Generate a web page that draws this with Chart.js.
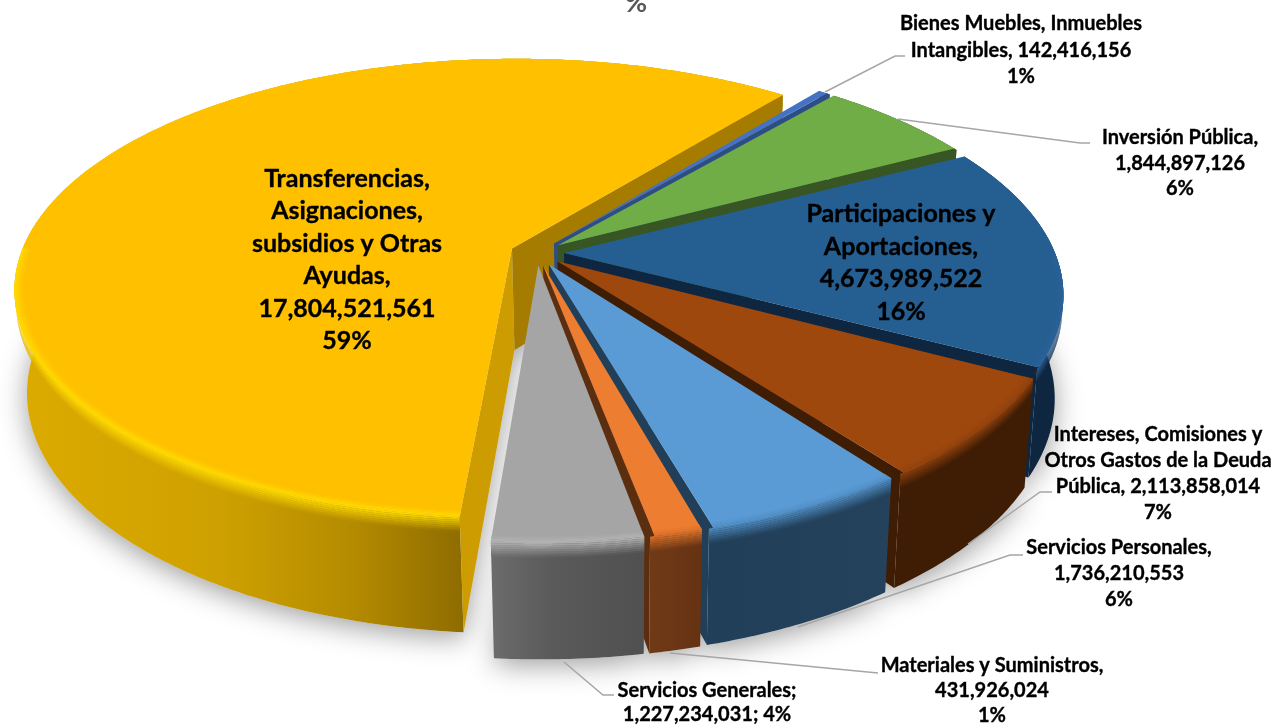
<!DOCTYPE html>
<html>
<head>
<meta charset="utf-8">
<script src="https://cdn.jsdelivr.net/npm/chart.js@4"></script>
<style>
  html, body { margin: 0; padding: 0; background: #fff; overflow: hidden; }
  canvas { display: block; }
</style>
</head>
<body>
<canvas id="pieChart" width="1273" height="725"></canvas>
<script>
var categories = ["Bienes Muebles, Inmuebles Intangibles", "Inversión Pública", "Participaciones y Aportaciones",
  "Intereses, Comisiones y Otros Gastos de la Deuda Pública", "Servicios Personales", "Materiales y Suministros",
  "Servicios Generales", "Transferencias, Asignaciones, subsidios y Otras Ayudas"];
var values = [142416156, 1844897126, 4673989522, 2113858014, 1736210553, 431926024, 1227234031, 17804521561];
var labelLines = [
  ["Bienes Muebles, Inmuebles", "Intangibles, 142,416,156", "1%"],
  ["Inversión Pública,", "1,844,897,126", "6%"],
  ["Participaciones y", "Aportaciones,", "4,673,989,522", "16%"],
  ["Intereses, Comisiones y", "Otros Gastos de la Deuda", "Pública, 2,113,858,014", "7%"],
  ["Servicios Personales,", "1,736,210,553", "6%"],
  ["Materiales y Suministros,", "431,926,024", "1%"],
  ["Servicios Generales;", "1,227,234,031; 4%"],
  ["Transferencias,", "Asignaciones,", "subsidios y Otras", "Ayudas,", "17,804,521,561", "59%"]
];

// colours of the slices, in the same order as the values
var topColors = ['#4472C4', '#70AD47', '#255E91', '#9E480E', '#5B9BD5', '#ED7D31', '#A5A5A5', '#FFC000'];
var rimColors = ['#3f69b5', '#64a03e', '#2a6298', '#8f410d', '#4f8cc2', '#d8702a', '#b4b4b4', '#FFDC00'];
var wallStops = [
  [[0, '#2c4d86'], [1, '#2c4d86']],
  [[0, '#375623'], [1, '#375623']],
  [[0, '#0e2640'], [1, '#0e2640']],
  [[0, '#3f1c04'], [1, '#3f1c04']],
  [[0, '#213f58'], [1, '#24425c']],
  [[0, '#703a17'], [1, '#653212']],
  [[0, '#6c6c6c'], [0.4, '#5a5a5a'], [1, '#505050']],
  [[0, '#dcab00'], [0.45, '#cfa100'], [0.75, '#b58c00'], [1, '#8f6c00']]
];
var cutColors = ['#2c4d86', '#375623', '#0e2640', '#3f1c04', '#213f58', '#5c2e10', '#555555', '#a67c00'];
var yellowFrontCut = '#cc9c00';

// perspective of the tilted pie
var CX = 537, CY = 253, R = 491, A = 224, H = 104, P = 0.173, Q = 0.02, SX = 2;
var EXPLODE = 27, EDGE_INSET = 0.008;

var leaders = [
  [[825, 92], [895, 56], [905, 56]],
  [[898, 119], [1080, 143], [1090, 143]],
  [[968, 544], [1040, 492], [1052, 492]],
  [[798, 627], [1010, 555], [1023, 555]],
  [[670, 653], [878, 673]],
  [[564, 662], [603, 695], [614, 695]]
];
// center x, y of the first line, line height, font size
var labelPos = [
  [1021, 24, 26.5, 20], [1180, 138, 25.5, 20], [901, 214, 32.7, 25], [1158, 435, 26, 20],
  [1119, 548, 26, 20], [992, 666, 25, 20], [707, 691, 23.5, 20], [347, 179, 32.4, 25]
];
var FONT = 'Lato, "Open Sans", sans-serif';

function project(u, v, z) {
  var w = 1 - P * v + Q * z;
  return [CX + SX * z + R * u / w, CY + (A * v + H * z) / w];
}
function hex(c) {
  return [parseInt(c.substr(1, 2), 16), parseInt(c.substr(3, 2), 16), parseInt(c.substr(5, 2), 16)];
}
function mix(c1, c2, t) {
  var a = hex(c1), b = hex(c2);
  return 'rgb(' + [0, 1, 2].map(function (i) { return Math.round(a[i] + (b[i] - a[i]) * t); }).join(',') + ')';
}

var pie3d = {
  id: 'pie3d',
  beforeDatasetDraw: function (chart, args) {
    var ctx = chart.ctx;
    var arcs = chart.getDatasetMeta(args.index).data;
    var parts = arcs.map(function (arc) {
      var mid = (arc.startAngle + arc.endAngle) / 2;
      var off = arc.options.offset / R;
      return { a0: arc.startAngle, a1: arc.endAngle, u0: off * Math.cos(mid), v0: off * Math.sin(mid) };
    });

    function rimPoint(p, a, r, z) {
      return project(p.u0 + r * Math.cos(a), p.v0 + r * Math.sin(a), z);
    }
    function trace(pts) {
      ctx.beginPath();
      pts.forEach(function (q, i) { if (i) ctx.lineTo(q[0], q[1]); else ctx.moveTo(q[0], q[1]); });
      ctx.closePath();
    }
    function arcPts(p, a0, a1, r, z) {
      var n = Math.max(2, Math.ceil((a1 - a0) / 0.01)), pts = [];
      for (var i = 0; i <= n; i++) pts.push(rimPoint(p, a0 + (a1 - a0) * i / n, r, z));
      return pts;
    }
    function band(p, a0, a1, r0, z0, r1, z1) {
      return arcPts(p, a0, a1, r0, z0).concat(arcPts(p, a0, a1, r1, z1).reverse());
    }
    function wallGradient(p, i, target, t) {
      var xa = rimPoint(p, p.a0, 1, 0)[0], xb = rimPoint(p, p.a1, 1, 0)[0];
      var x0 = Math.min(xa, xb), x1 = Math.max(xa, xb) + 1;
      if (i === 7) { x0 = 13; x1 = 462; }
      var g = ctx.createLinearGradient(x0, 0, x1, 0);
      wallStops[i].forEach(function (s) { g.addColorStop(s[0], mix(s[1], target, t)); });
      return g;
    }

    // soft shadow below the pie
    ctx.save();
    ctx.fillStyle = '#e6e6e6';
    ctx.shadowColor = 'rgba(0,0,0,0.38)';
    ctx.shadowBlur = 28;
    ctx.shadowOffsetY = 6;
    parts.forEach(function (p) {
      var apex = project(p.u0, p.v0, 1);
      trace([apex].concat(arcPts(p, p.a0, p.a1, 1, 1)));
      ctx.fill();
    });
    ctx.restore();

    // back to front: big slice first, then clockwise round to the front
    [7, 0, 1, 2, 3, 4, 5, 6].forEach(function (i) {
      var p = parts[i];
      var apex0 = project(p.u0, p.v0, 0), apex1 = project(p.u0, p.v0, 1);
      // top face stops a little short of the trailing edge, so the dark strip reads as a bevel
      var end = i < 6 ? p.a1 - EDGE_INSET : p.a1;

      // outer wall
      trace(band(p, p.a0, p.a1, 1, 0, 1, 1));
      ctx.fillStyle = wallGradient(p, i, rimColors[i], 0);
      ctx.fill();

      // rounded rim on the wall
      var steps = 8, zr = 0.13;
      for (var s = steps - 1; s >= 0; s--) {
        trace(band(p, p.a0, p.a1, 1, zr * s / steps, 1, zr * (s + 1) / steps));
        ctx.fillStyle = wallGradient(p, i, rimColors[i], 1 - (s + 0.5) / steps);
        ctx.fill();
      }

      // cut faces, only those turned to the viewer
      [p.a0, p.a1].forEach(function (a, k) {
        var r0 = rimPoint(p, a, 1, 0), r1 = rimPoint(p, a, 1, 1);
        var cross = (r0[0] - apex0[0]) * (r1[1] - r0[1]) - (r0[1] - apex0[1]) * (r1[0] - r0[0]);
        if ((k === 1) !== (cross > 0)) return;
        var pts = [apex0, r0, r1, apex1];
        if (k === 1 && end < p.a1) pts.splice(1, 0, rimPoint(p, end, 1, 0));
        trace(pts);
        ctx.fillStyle = (i === 7 && k === 0) ? yellowFrontCut : cutColors[i];
        ctx.fill();
      });

      // top face
      trace([apex0].concat(arcPts(p, p.a0, end, 1, 0)));
      ctx.fillStyle = topColors[i];
      ctx.fill();

      // rim highlight on the front part of the top face
      var f0 = Math.max(p.a0, 0), f1 = Math.min(end, Math.PI);
      if (f1 > f0) {
        for (var k = 0; k < 5; k++) {
          var r0 = 0.982 + 0.018 * k / 5, r1 = 0.982 + 0.018 * (k + 1) / 5;
          trace(band(p, f0, f1, r0, 0, r1, 0));
          ctx.fillStyle = mix(topColors[i], rimColors[i], (k + 0.5) / 5);
          ctx.fill();
        }
      }
    });
    return false;
  },
  afterDraw: function (chart) {
    var ctx = chart.ctx;
    ctx.save();
    ctx.strokeStyle = '#a6a6a6';
    ctx.lineWidth = 1.5;
    leaders.forEach(function (line) {
      ctx.beginPath();
      line.forEach(function (q, i) { if (i) ctx.lineTo(q[0], q[1]); else ctx.moveTo(q[0], q[1]); });
      ctx.stroke();
    });
    ctx.textAlign = 'center';
    ctx.textBaseline = 'middle';
    ctx.fillStyle = '#000';
    ctx.strokeStyle = '#000';
    ctx.lineWidth = 0.35;
    labelLines.forEach(function (lines, i) {
      var pos = labelPos[i];
      ctx.font = 'bold ' + pos[3] + 'px ' + FONT;
      lines.forEach(function (t, k) {
        ctx.fillText(t, pos[0], pos[1] + k * pos[2]);
        ctx.strokeText(t, pos[0], pos[1] + k * pos[2]);
      });
    });
    // the chart title is cut off by the top edge, only this bit remains
    ctx.fillStyle = '#595959';
    ctx.font = 'bold 27px ' + FONT;
    ctx.fillText('%', 636, 3);
    ctx.restore();
  }
};

var chart = new Chart(document.getElementById('pieChart').getContext('2d'), {
  type: 'pie',
  data: {
    labels: categories,
    datasets: [{
      data: values,
      backgroundColor: topColors,
      offset: EXPLODE,
      borderWidth: 0
    }]
  },
  options: {
    responsive: false,
    animation: false,
    rotation: 38.4,
    plugins: { legend: { display: false }, tooltip: { enabled: false } }
  },
  plugins: [pie3d]
});
</script>
</body>
</html>
